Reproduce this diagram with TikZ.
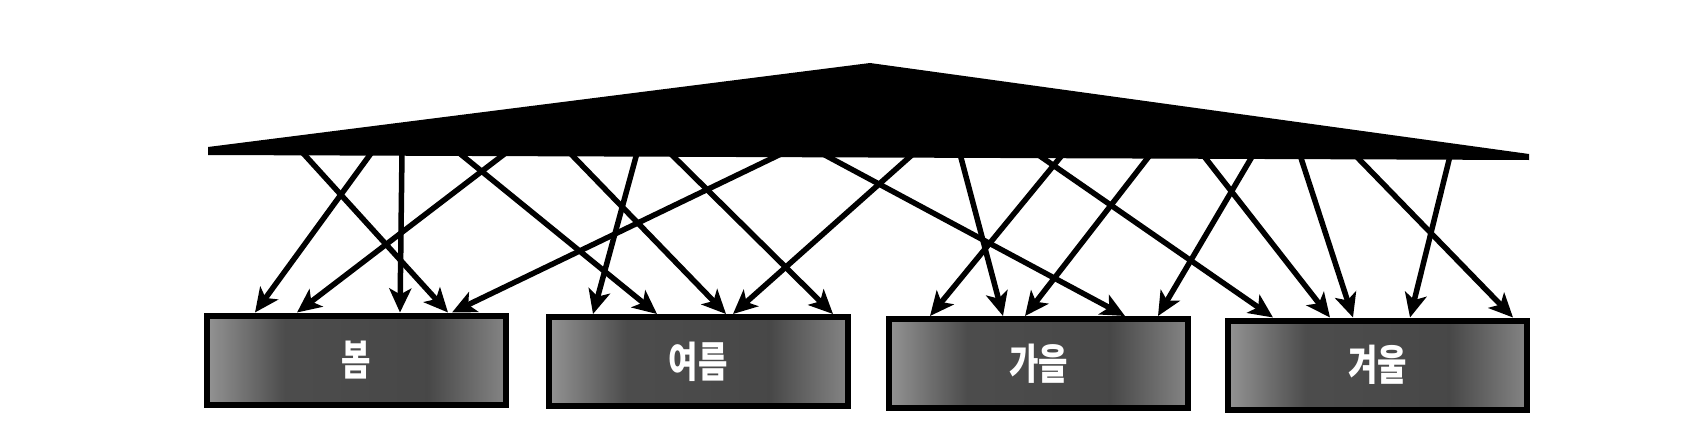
\documentclass[tikz,border=0pt]{standalone}
\usepackage{fontspec}
\newfontfamily\krfont{Noto Sans CJK KR}
\usetikzlibrary{arrows.meta,calc}
\pgfdeclarehorizontalshading{boxshade}{100bp}{%
  color(0bp)=(black!42); color(25bp)=(black!42); color(38bp)=(black!70);
  color(62bp)=(black!72); color(75bp)=(black!48); color(100bp)=(black!48)}
\begin{document}
\begin{tikzpicture}[x=1pt,y=-1pt,
  season/.style={draw=black, line width=6pt, outer sep=3pt, inner sep=0pt,
    minimum width=299pt, minimum height=89pt, shading=boxshade,
    text=white, font=\krfont\bfseries\fontsize{42}{42}\selectfont},
  link/.style={line width=5.5pt, -{Stealth[length=24pt,width=22pt,inset=6pt]}}]
\useasboundingbox (0,0) rectangle (1702,436);
% roof (triangle)
\fill[black] (208,147) -- (870,63) -- (1529,154) -- (1529,160) -- (208,155) -- cycle;
% seasons
\node[season] (spring) at (356,360)    {\scalebox{0.76}[1]{봄}};
\node[season] (summer) at (698,361.5)  {\scalebox{0.76}[1]{여름}};
\node[season] (autumn) at (1038.5,363.5) {\scalebox{0.76}[1]{가을}};
\node[season] (winter) at (1377.5,365) {\scalebox{0.76}[1]{겨울}};
% start points on the roof base
\coordinate (r1) at (302,152);
\coordinate (r2) at (372,152);
\coordinate (r3) at (402,152);
\coordinate (r4) at (507,152);
\coordinate (r5) at (783,153);
\coordinate (r6) at (458,152);
\coordinate (r7) at (570,153);
\coordinate (r8) at (637,153);
\coordinate (r9) at (670,153);
\coordinate (r10) at (913,154);
\coordinate (r11) at (823,154);
\coordinate (r12) at (960,154);
\coordinate (r13) at (1063,154);
\coordinate (r14) at (1150,155);
\coordinate (r15) at (1253,155);
\coordinate (r16) at (1037,154);
\coordinate (r17) at (1203,155);
\coordinate (r18) at (1300,155);
\coordinate (r19) at (1355,155);
\coordinate (r20) at (1450,156);
% arrows to spring
\draw[link] (r1) -- ($(spring.north west)+(244.5,0)$);
\draw[link] (r2) -- ($(spring.north west)+(51.5,0)$);
\draw[link] (r3) -- ($(spring.north west)+(196.5,0)$);
\draw[link] (r4) -- ($(spring.north west)+(93.5,0)$);
\draw[link] (r5) -- ($(spring.north west)+(248.5,0)$);
% arrows to summer
\draw[link] (r6) -- ($(summer.north west)+(111.5,0)$);
\draw[link] (r7) -- ($(summer.north west)+(180.5,0)$);
\draw[link] (r8) -- ($(summer.north west)+(47.5,0)$);
\draw[link] (r9) -- ($(summer.north west)+(287.5,0)$);
\draw[link] (r10) -- ($(summer.north west)+(187.5,0)$);
% arrows to autumn
\draw[link] (r11) -- ($(autumn.north west)+(239,0)$);
\draw[link] (r12) -- ($(autumn.north west)+(117,0)$);
\draw[link] (r13) -- ($(autumn.north west)+(44,0)$);
\draw[link] (r14) -- ($(autumn.north west)+(139,0)$);
\draw[link] (r15) -- ($(autumn.north west)+(272,0)$);
% arrows to winter
\draw[link] (r16) -- ($(winter.north west)+(48,0)$);
\draw[link] (r17) -- ($(winter.north west)+(105,0)$);
\draw[link] (r18) -- ($(winter.north west)+(128,0)$);
\draw[link] (r19) -- ($(winter.north west)+(288,0)$);
\draw[link] (r20) -- ($(winter.north west)+(185,0)$);
\end{tikzpicture}
\end{document}
